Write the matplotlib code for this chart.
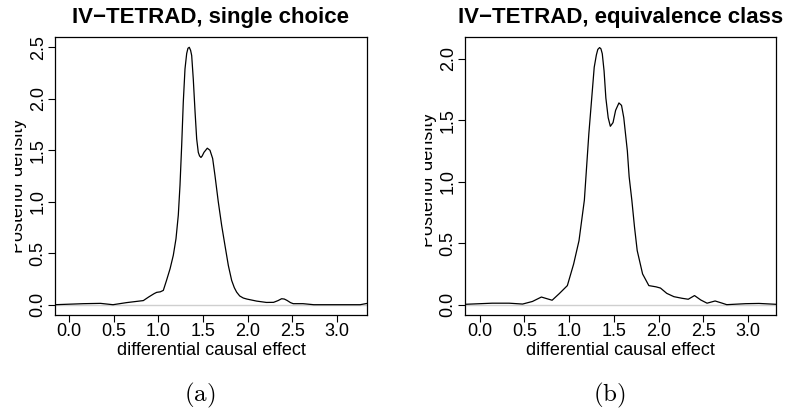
import numpy as np
import matplotlib
matplotlib.use("Agg")
from matplotlib import pyplot as plt
from matplotlib.transforms import Bbox, TransformedBbox

plt.rcParams['font.family'] = ['Liberation Sans', 'DejaVu Sans']
plt.rcParams['mathtext.fontset'] = 'cm'

# posterior density, single choice (a)
x_single = [-0.16, 0.16, 0.35, 0.49, 0.64, 0.83, 0.89, 0.95, 0.98, 1.02, 1.054, 1.09, 1.13,
            1.166, 1.196, 1.222, 1.241, 1.26, 1.278, 1.297, 1.316, 1.33, 1.345, 1.36, 1.372,
            1.39, 1.41, 1.428, 1.446, 1.46, 1.476, 1.49, 1.51, 1.547, 1.577, 1.607, 1.633,
            1.67, 1.708, 1.745, 1.783, 1.82, 1.85, 1.876, 1.91, 1.95, 1.99, 2.10, 2.21,
            2.29, 2.34, 2.38, 2.41, 2.44, 2.48, 2.51, 2.62, 2.74, 3.26, 3.34]
y_single = [0.0, 0.01, 0.013, 0.0, 0.02, 0.04, 0.075, 0.107, 0.12, 0.125, 0.139, 0.236, 0.35,
            0.48, 0.64, 0.87, 1.16, 1.55, 1.97, 2.29, 2.44, 2.49, 2.50, 2.47, 2.42,
            2.19, 1.87, 1.61, 1.48, 1.445, 1.43, 1.445, 1.48, 1.52, 1.50, 1.42, 1.255,
            1.0, 0.77, 0.576, 0.38, 0.236, 0.165, 0.122, 0.085, 0.065, 0.055, 0.035, 0.022,
            0.023, 0.04, 0.058, 0.055, 0.042, 0.02, 0.01, 0.01, 0.0, 0.0, 0.013]

# equivalence class (b)
x_equiv = [-0.16, 0.14, 0.33, 0.48, 0.59, 0.69, 0.81, 0.89, 0.98, 1.05, 1.11, 1.17, 1.195,
           1.22, 1.25, 1.28, 1.304, 1.32, 1.34, 1.355, 1.37, 1.39, 1.41, 1.436, 1.46, 1.49,
           1.519, 1.556, 1.585, 1.61, 1.65, 1.67, 1.70, 1.73, 1.76, 1.82, 1.89, 1.97, 2.02,
           2.09, 2.17, 2.26, 2.33, 2.40, 2.47, 2.54, 2.63, 2.71, 2.76, 2.97, 3.12, 3.31]
y_equiv = [0.003, 0.012, 0.012, 0.005, 0.026, 0.062, 0.036, 0.09, 0.155, 0.33, 0.52, 0.85, 1.12,
           1.39, 1.66, 1.93, 2.03, 2.075, 2.09, 2.08, 2.04, 1.9, 1.68, 1.52, 1.45, 1.48,
           1.58, 1.64, 1.62, 1.52, 1.25, 1.04, 0.85, 0.63, 0.44, 0.25, 0.155, 0.145, 0.135,
           0.092, 0.065, 0.052, 0.044, 0.074, 0.038, 0.012, 0.03, 0.012, 0.0, 0.008, 0.01, 0.003]

titles = ["IV\u2212TETRAD, single choice", "IV\u2212TETRAD, equivalence class"]
tags = ["(a)", "(b)"]
xticks = [0.0, 0.5, 1.0, 1.5, 2.0, 2.5, 3.0]
yticks_a = [0.0, 0.5, 1.0, 1.5, 2.0, 2.5]
yticks_b = [0.0, 0.5, 1.0, 1.5, 2.0]

W, H = 785, 416
fig = plt.figure(figsize=(W / 100, H / 100), dpi=100)

# pixel boxes of the two panels
boxes = [(55, 37, 367, 315), (465, 37, 776, 315)]
curves = [(x_single, y_single, yticks_a, (-0.16, 3.337), (-0.1, 2.6), 14.5, 0.465),
          (x_equiv, y_equiv, yticks_b, (-0.163, 3.31), (-0.084, 2.176), 424.5, 0.485)]

for i in range(2):
    l, t, r, b = boxes[i]
    ax = fig.add_axes([l / W, 1 - b / H, (r - l) / W, (b - t) / H])
    xs, ys, yt, xlim, ylim, clipx, ly = curves[i]
    ax.axhline(0, color='#cfcfcf', lw=1.0, zorder=1)
    ax.plot(xs, ys, color='black', lw=0.9, zorder=2)
    ax.set_xlim(*xlim)
    ax.set_ylim(*ylim)
    ax.set_xticks(xticks)
    ax.set_xticklabels(["%.1f" % v for v in xticks])
    ax.set_yticks(yt)
    ax.set_yticklabels(["%.1f" % v for v in yt], rotation=90, va='center')
    ax.tick_params(direction='out', length=5, width=0.8, labelsize=13, pad=1, color='black')
    for s in ax.spines.values():
        s.set_linewidth(0.9)
    ax.set_title(titles[i], fontsize=16, fontweight='bold', pad=10)
    ax.set_xlabel("differential causal effect", fontsize=13, labelpad=1)
    ax.set_ylabel("Posterior density", fontsize=13)
    ax.yaxis.set_label_coords(-0.09, ly)
    # the label is cut at the left in the original
    lab = ax.yaxis.label
    lab.set_clip_box(TransformedBbox(Bbox([[clipx / W, 0], [1, 1]]), fig.transFigure))
    lab.set_clip_on(True)
    fig.text(((l + r) / 2 - 11) / W, 1 - 395 / H, r"$\mathrm{%s}$" % tags[i],
             ha='center', va='center', fontsize=18)

fig.savefig("out.png", dpi=100)
